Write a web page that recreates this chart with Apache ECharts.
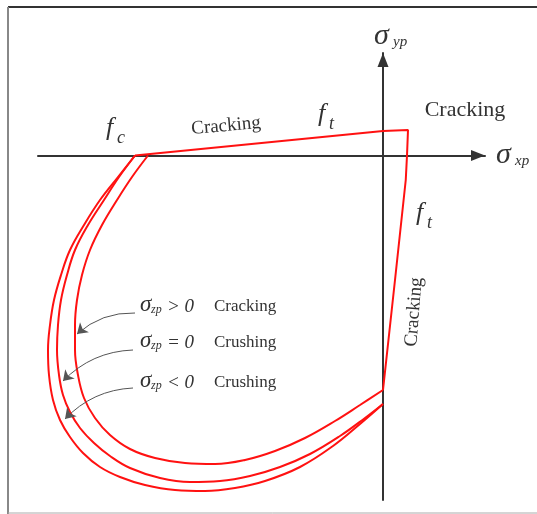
<!DOCTYPE html>
<html>
<head>
<meta charset="utf-8">
<style>
  html, body { margin: 0; padding: 0; background: #fff; }
  #chart { width: 537px; height: 514px; }
</style>
<script src="https://cdn.jsdelivr.net/npm/echarts@6/dist/echarts.min.js"></script>
</head>
<body>
<div id="chart"></div>
<script>
// stresses in units of f_t (f_c ~ -10 f_t)
const tensionCutoff = [
  [-9.92, 0], [0, 0.98], [1.0, 1.02], [0.96, 0], [0.91, -0.98], [0.48, -4.98], [0, -9.38]
]

// sigma_zp > 0 (cracking)
const surfacePositive = [
  [-9.4, 0], [-10.04, -0.86], [-10.64, -1.78], [-11.24, -2.78], [-11.72, -3.78], [-12.04, -4.78],
  [-12.24, -5.78], [-12.32, -6.78], [-12.32, -7.78], [-12.2, -8.78], [-11.96, -9.7],
  [-11.52, -10.5], [-10.92, -11.18], [-10.12, -11.74], [-9.12, -12.1], [-7.92, -12.3],
  [-6.72, -12.34], [-5.52, -12.18], [-4.32, -11.82], [-3.12, -11.3], [-1.92, -10.62],
  [-0.92, -9.98], [0, -9.38]
]

// sigma_zp = 0 (crushing)
const surfaceZero = [
  [-9.92, 0], [-10.56, -0.86], [-11.16, -1.78], [-11.8, -2.78], [-12.32, -3.78], [-12.64, -4.78],
  [-12.88, -5.78], [-13.0, -6.78], [-13.04, -7.78], [-12.96, -8.78], [-12.8, -9.58],
  [-12.52, -10.26], [-12.12, -10.9], [-11.56, -11.5], [-10.92, -12.02], [-10.12, -12.5],
  [-8.92, -12.9], [-7.72, -13.06], [-6.52, -13.02], [-5.32, -12.82], [-4.12, -12.46],
  [-2.92, -11.94], [-1.72, -11.22], [-0.72, -10.5], [0, -9.94]
]

// sigma_zp < 0 (crushing)
const surfaceNegative = [
  [-9.92, 0], [-10.6, -0.86], [-11.32, -1.78], [-11.96, -2.78], [-12.52, -3.78], [-12.88, -4.78],
  [-13.16, -5.78], [-13.32, -6.78], [-13.4, -7.78], [-13.36, -8.78], [-13.2, -9.78],
  [-12.92, -10.58], [-12.52, -11.26], [-12.0, -11.9], [-11.32, -12.46], [-10.52, -12.86],
  [-9.52, -13.18], [-8.32, -13.38], [-7.12, -13.42], [-5.92, -13.3], [-4.72, -13.02],
  [-3.32, -12.46], [-2.0, -11.62], [-0.92, -10.74], [0, -9.94]
]

// leader arrows: label -> curve
const leaderLines = [
  [[-9.92, -6.3], [-12.24, -7.14]],
  [[-10.0, -7.78], [-12.8, -9.02]],
  [[-10.0, -9.3], [-12.72, -10.54]]
]

const zpRelations = ['> 0', '= 0', '< 0']
const zpModes = ['Cracking', 'Crushing', 'Crushing']

const serif = '"Liberation Serif", "DejaVu Serif", serif'
const textColor = '#333'

function mathLabel(x, y, main, sub, size, subSize, subDx, subDy) {
  return [
    { type: 'text', x: x, y: y, style: { text: main, font: 'italic ' + size + 'px ' + serif, fill: textColor, verticalAlign: 'middle' } },
    { type: 'text', x: x + subDx, y: y + subDy, style: { text: sub, font: 'italic ' + subSize + 'px ' + serif, fill: textColor, verticalAlign: 'middle' } }
  ]
}

var chartDom = document.getElementById('chart')
var myChart = echarts.init(chartDom)

var graphics = [
  { type: 'line', shape: { x1: 8, y1: 7, x2: 537, y2: 7 }, style: { stroke: '#333', lineWidth: 2 } },
  { type: 'line', shape: { x1: 8, y1: 7, x2: 8, y2: 514 }, style: { stroke: '#888', lineWidth: 2 } },
  { type: 'line', shape: { x1: 8, y1: 513, x2: 537, y2: 513 }, style: { stroke: '#aaa', lineWidth: 1 } },
  { type: 'text', x: 465, y: 110, style: { text: 'Cracking', font: '22px ' + serif, fill: textColor, align: 'center', verticalAlign: 'middle' } },
  { type: 'text', x: 226, y: 126, rotation: 0.09, style: { text: 'Cracking', font: '19px ' + serif, fill: textColor, align: 'center', verticalAlign: 'middle' } },
  { type: 'text', x: 414, y: 312, rotation: 1.49, style: { text: 'Cracking', font: '19px ' + serif, fill: textColor, align: 'center', verticalAlign: 'middle' } }
]

graphics = graphics.concat(
  mathLabel(374, 36, 'σ', 'yp', 30, 15, 19, 6),
  mathLabel(496, 155, 'σ', 'xp', 30, 15, 19, 6),
  mathLabel(106, 128, 'f', 'c', 26, 18, 11, 10),
  mathLabel(318, 114, 'f', 't', 26, 18, 11, 10),
  mathLabel(416, 213, 'f', 't', 26, 18, 11, 10)
)

var rowY = [307, 343, 383]
for (var i = 0; i < zpRelations.length; i++) {
  graphics = graphics.concat(mathLabel(140, rowY[i] - 2, 'σ', 'zp', 23, 12, 11, 5))
  graphics.push({ type: 'text', x: 167, y: rowY[i], style: { text: zpRelations[i], font: 'italic 19px ' + serif, fill: textColor, verticalAlign: 'middle' } })
  graphics.push({ type: 'text', x: 214, y: rowY[i], style: { text: zpModes[i], font: '17px ' + serif, fill: textColor, verticalAlign: 'middle' } })
}

var redLine = { color: '#ff1111', width: 2 }

var option = {
  animation: false,
  backgroundColor: '#fff',
  grid: { left: 38, right: 52, top: 53, bottom: 14 },
  xAxis: {
    type: 'value',
    min: -13.8,
    max: 4.08,
    axisLine: { onZero: true, lineStyle: { color: '#333', width: 2 }, symbol: ['none', 'triangle'], symbolSize: [11, 14], symbolOffset: [0, -7] },
    axisTick: { show: false },
    axisLabel: { show: false },
    splitLine: { show: false }
  },
  yAxis: {
    type: 'value',
    min: -13.78,
    max: 4.1,
    axisLine: { onZero: true, lineStyle: { color: '#333', width: 2 }, symbol: ['none', 'triangle'], symbolSize: [11, 14], symbolOffset: [0, -7] },
    axisTick: { show: false },
    axisLabel: { show: false },
    splitLine: { show: false }
  },
  series: [
    { type: 'line', data: tensionCutoff, showSymbol: false, clip: false, lineStyle: redLine, z: 3 },
    { type: 'line', data: surfacePositive, smooth: 0.4, showSymbol: false, clip: false, lineStyle: redLine, z: 3 },
    { type: 'line', data: surfaceZero, smooth: 0.4, showSymbol: false, clip: false, lineStyle: redLine, z: 3 },
    { type: 'line', data: surfaceNegative, smooth: 0.4, showSymbol: false, clip: false, lineStyle: redLine, z: 3 },
    {
      type: 'lines',
      coordinateSystem: 'cartesian2d',
      symbol: ['none', 'arrow'],
      symbolSize: 10,
      lineStyle: { color: '#555', width: 1, curveness: -0.2, opacity: 1 },
      data: leaderLines.map(function (l) { return { coords: l } }),
      z: 4
    }
  ],
  graphic: graphics
}

option && myChart.setOption(option)
</script>
</body>
</html>
